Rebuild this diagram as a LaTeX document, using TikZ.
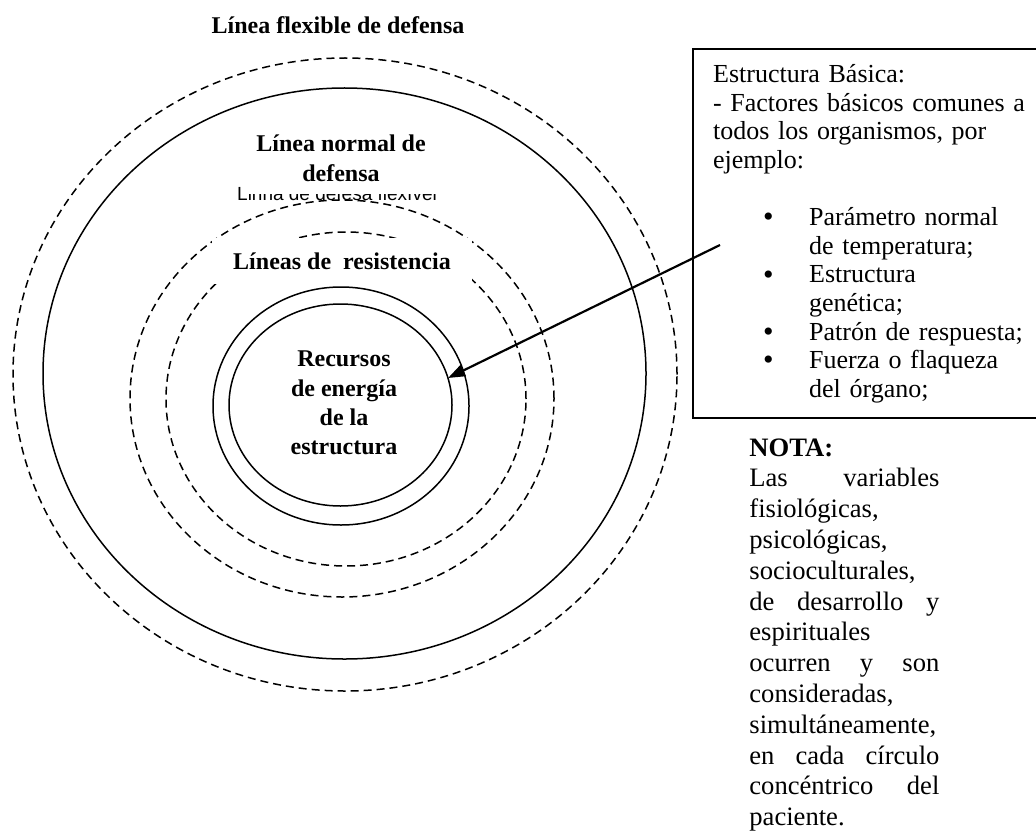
\documentclass[tikz,border=0pt]{standalone}
\usepackage{fontspec}
\setmainfont{Liberation Serif}
\newfontfamily\garbledfont{Liberation Sans}
\usetikzlibrary{arrows.meta}

\newcommand{\itembullet}{\raisebox{-0.6pt}{\fontsize{15}{14}\selectfont\textbullet}}

\begin{document}
\begin{tikzpicture}[x=0.5pt,y=-0.5pt,
  solidring/.style={line width=0.75pt},
  dashring/.style={line width=0.75pt,dash pattern=on 4pt off 2.5pt},
  ringlabel/.style={font=\fontsize{12}{15}\selectfont\bfseries,align=center},
  coverlabel/.style={ringlabel,fill=white,inner sep=6pt},
  garbled/.style={font=\garbledfont\fontsize{9.5}{11}\selectfont,inner sep=0pt},
  infobox/.style={draw,line width=1.1pt,fill=white,align=left,text width=172pt,
    inner xsep=10pt,inner ysep=7.75pt,font=\fontsize{13}{14.3}\selectfont},
  notetext/.style={align=left,text width=95pt,inner sep=0pt,font=\fontsize{13.3}{15.4}\selectfont},
  pointer/.style={line width=1.1pt,-{Triangle[length=8.5pt,width=6pt]}}]
  \useasboundingbox (0,0) rectangle (1036,834);

  \draw[dashring] (345,374.5) ellipse [x radius=166pt, y radius=158.25pt];
  \draw[solidring] (344.5,373.5) ellipse [x radius=150.75pt, y radius=142.75pt];
  \draw[dashring] (342,398.5) ellipse [x radius=106pt, y radius=99.25pt];
  \draw[dashring] (346,399) ellipse [x radius=90pt, y radius=83.5pt];
  \draw[solidring] (341,406) ellipse [x radius=64pt, y radius=59.5pt];
  \draw[solidring] (340.5,405) ellipse [x radius=55.75pt, y radius=50.5pt];

  \node[ringlabel] (flexible) at (338,25) {Línea flexible de defensa};
  \node[garbled,anchor=base] (garble) at (337,200) {Linha de defesa flexível};
  \node[coverlabel,anchor=south] (normal) at (341,194) {Línea normal de\\defensa};
  \node[coverlabel,minimum width=130pt,minimum height=23pt] (resist) at (342,261)
    {Líneas de~ resistencia};
  \node[ringlabel,font=\fontsize{12}{14.7}\selectfont\bfseries] (recursos) at (344,403)
    {Recursos\\de energía\\de la\\estructura};

  \node[infobox,anchor=north west] (estructura) at (692,48) {Estructura Básica:\\
    - Factores básicos comunes a\\
    todos los organismos, por\\
    ejemplo:\\[14.3pt]
    \hspace*{25pt}\makebox[23pt][l]{\itembullet}Parámetro normal\\
    \hspace*{48pt}de temperatura;\\
    \hspace*{25pt}\makebox[23pt][l]{\itembullet}Estructura\\
    \hspace*{48pt}genética;\\
    \hspace*{25pt}\makebox[23pt][l]{\itembullet}Patrón de respuesta;\\
    \hspace*{25pt}\makebox[23pt][l]{\itembullet}Fuerza o flaqueza\\
    \hspace*{48pt}del órgano;};

  \node[notetext,anchor=north west] (nota) at (749,438) {\textbf{NOTA:}\\
    Las\hfill variables\\
    fisiológicas,\\
    psicológicas,\\
    socioculturales,\\
    de\hfill desarrollo\hfill y\\
    espirituales\\
    ocurren\hfill y\hfill son\\
    consideradas,\\
    simultáneamente,\\
    en\hfill cada\hfill círculo\\
    concéntrico\hfill del\\
    paciente.};

  \coordinate (tail) at (720,245);
  \coordinate (tip) at (448,378);
  \draw[pointer] (tail) -- (tip);
\end{tikzpicture}
\end{document}
